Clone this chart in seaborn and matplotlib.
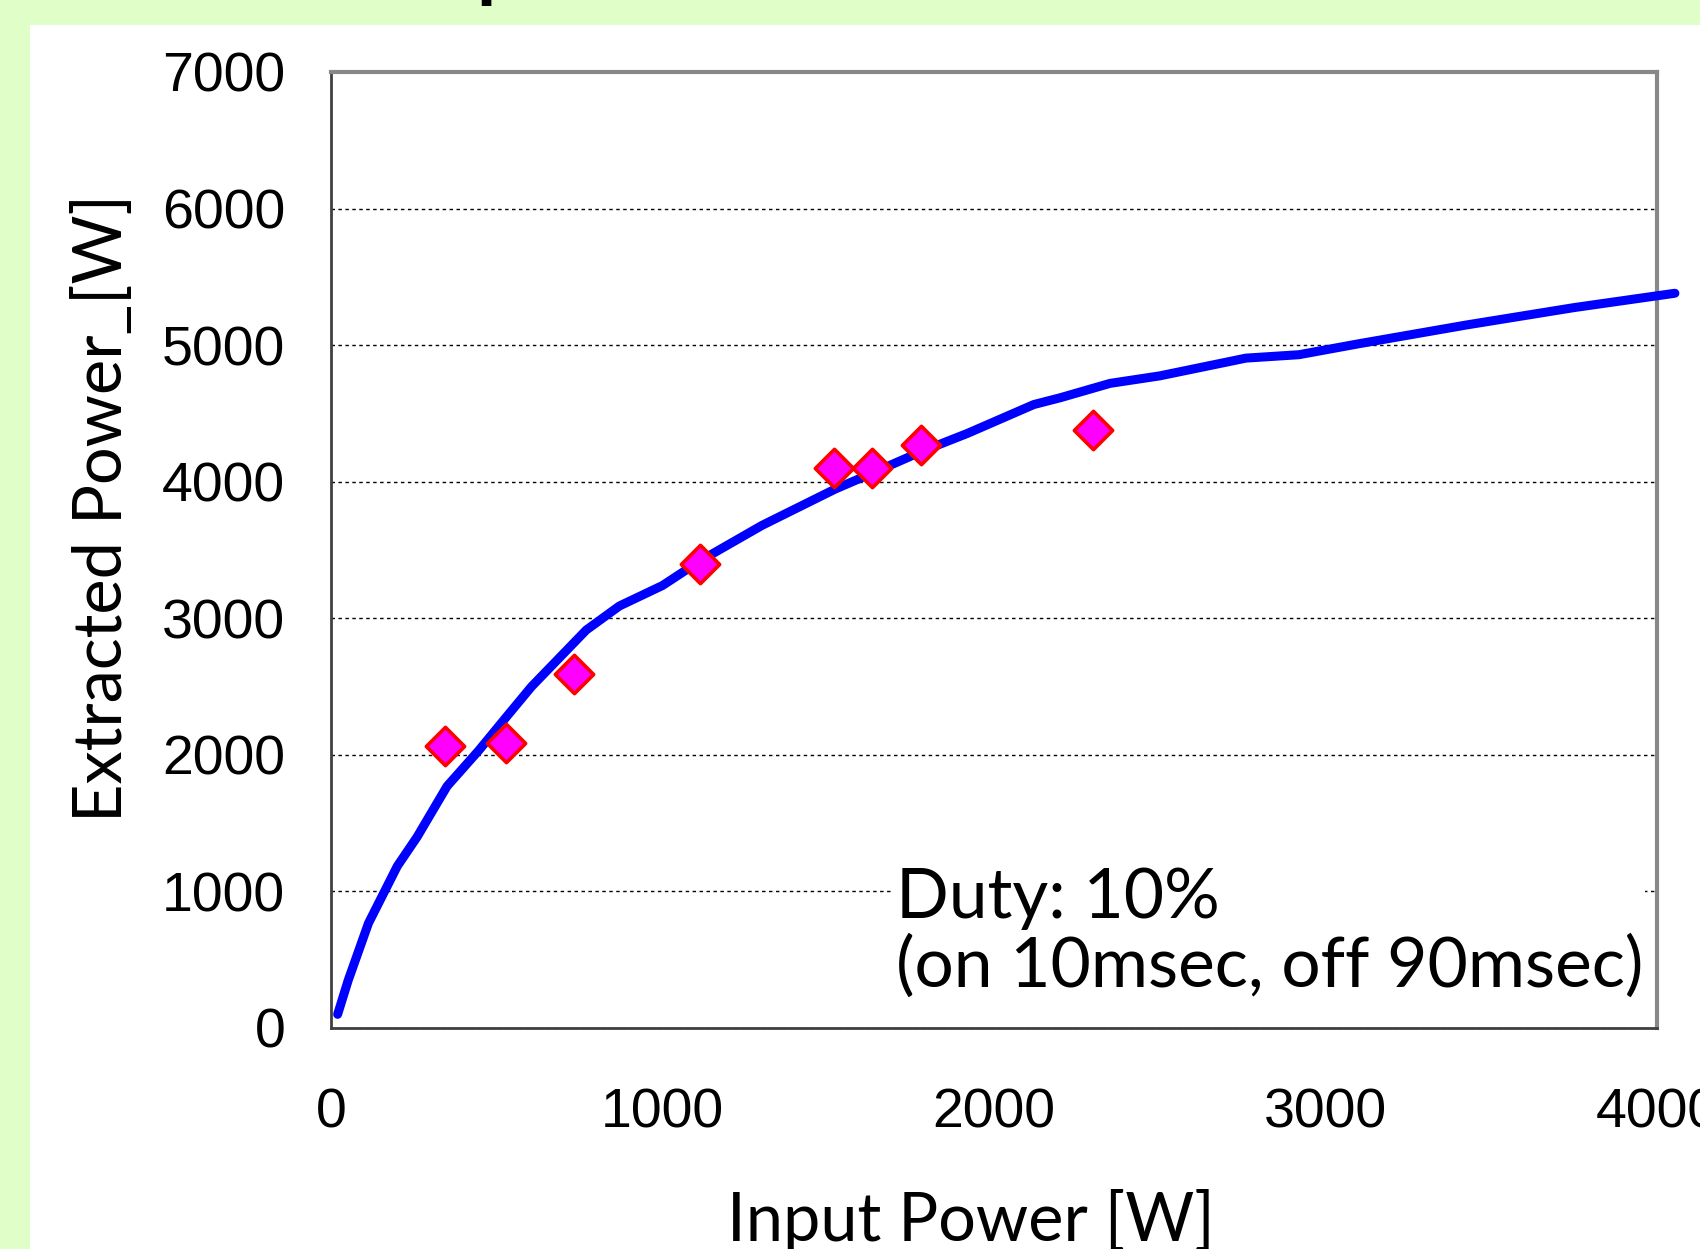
import matplotlib
matplotlib.use("Agg")
import matplotlib.pyplot as plt
import seaborn as sns
from matplotlib.patches import Rectangle

# measured data (diamonds)
input_power = [343, 528, 734, 1114, 1516, 1631, 1780, 2299]
extracted_power = [2064, 2088, 2590, 3400, 4100, 4097, 4270, 4380]

# calculated curve
curve_input = [20, 52, 113, 200, 260, 350, 445, 540, 605, 770, 870, 1000, 1113,
               1300, 1520, 1630, 1780, 1920, 2120, 2200, 2350, 2500, 2760, 2920,
               3100, 3426, 3750, 4054]
curve_extracted = [100, 350, 767, 1185, 1400, 1770, 2030, 2310, 2500, 2914, 3090,
                   3240, 3420, 3680, 3945, 4060, 4220, 4354, 4565, 4615, 4720, 4775,
                   4905, 4930, 5010, 5148, 5275, 5380]

x_ticks = [0, 1000, 2000, 3000, 4000]
y_ticks = [0, 1000, 2000, 3000, 4000, 5000, 6000, 7000]

W, H = 1700, 1249

sns.set_style("white")
plt.rcParams['font.family'] = ['Lato', 'DejaVu Sans']
plt.rcParams['text.color'] = 'black'

fig = plt.figure(figsize=(W / 100, H / 100), dpi=100, facecolor='#E0FFC8')
fig.add_artist(Rectangle((30 / W, 0), 1 - 30 / W, (H - 25) / H, transform=fig.transFigure,
                         facecolor='white', edgecolor='none', zorder=-1))

ax = fig.add_axes([331 / W, 1 - 1028 / H, (1657 - 331) / W, (1028 - 72) / H])

sns.lineplot(x=curve_input, y=curve_extracted, ax=ax, color='#0000FF', linewidth=6.5,
             sort=False, estimator=None, clip_on=False, zorder=4)
sns.scatterplot(x=input_power, y=extracted_power, ax=ax, marker='D', s=380,
                color='#FF00FF', edgecolor='#FF0000', linewidth=2.6, zorder=5)

ax.set_xlim(0, 4000)
ax.set_ylim(0, 7000)
ax.set_xticks(x_ticks)
ax.set_yticks(y_ticks)
ax.set_xticklabels([str(v) for v in x_ticks], family='Liberation Sans', fontsize=40,
                   color='black')
ax.set_yticklabels([str(v) for v in y_ticks], family='Liberation Sans', fontsize=40,
                   color='black')
ax.tick_params(axis='both', direction='in', length=10, width=1.5, color='#333333')
ax.tick_params(axis='x', pad=43)
ax.tick_params(axis='y', pad=33)
ax.set_xlabel('')
ax.set_ylabel('')

ax.yaxis.grid(True, color='black', linestyle=(0, (2.5, 2.5)), linewidth=1)
ax.xaxis.grid(False)
ax.set_axisbelow(True)

for side in ['left', 'bottom']:
    ax.spines[side].set_color('#404040')
    ax.spines[side].set_linewidth(2)
for side in ['top', 'right']:
    ax.spines[side].set_color('#888888')
    ax.spines[side].set_linewidth(3)

ax.text(1704, 300, 'Duty: 10%\n(on 10msec, off 90msec)', fontsize=50, va='baseline',
        ha='left', linespacing=1.08, color='black',
        bbox=dict(facecolor='white', edgecolor='none', pad=1), zorder=3)

fig.text(971 / W, 8 / H, 'Input Power [W]', fontsize=48, ha='center', va='baseline',
         color='black')
fig.text(103 / W, 1 - 508 / H, 'Extracted Power_[W]', fontsize=48, rotation=90,
         ha='center', va='center', color='black')

# descender of the cut-off slide title
fig.text(476 / W, 1 + 8 / H, 'p', fontsize=56, fontweight='bold', ha='left',
         va='baseline', color='black')

fig.savefig('out.png', dpi=100, facecolor=fig.get_facecolor())
